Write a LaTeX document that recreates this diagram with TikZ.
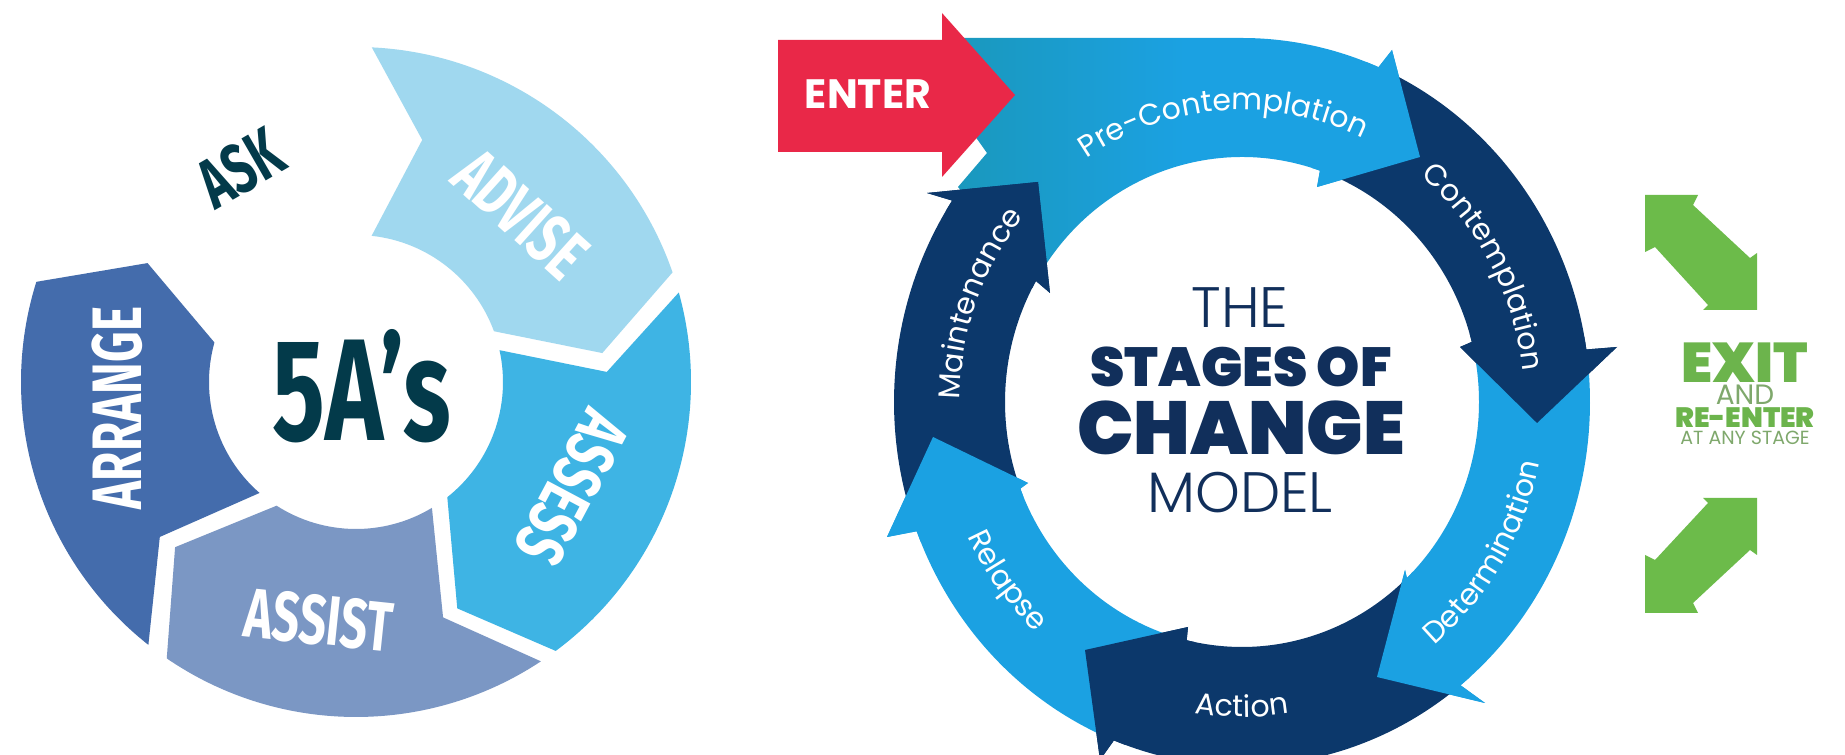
\documentclass[tikz,border=0pt]{standalone}
\usepackage{fontspec}
\usetikzlibrary{decorations.text}
\newfontfamily\pop{Poppins}
\IfFontExistsTF{Fira Sans Black}
  {\newfontfamily\condheavy[FakeStretch=0.68]{Fira Sans Black}}
  {\newfontfamily\condheavy[FakeStretch=0.7]{Fira Sans}}
\IfFontExistsTF{Poppins Light}
  {\newfontfamily\poplight{Poppins Light}}
  {\newfontfamily\poplight{Poppins}}
\IfFontExistsTF{Poppins ExtraBold}
  {\newfontfamily\popheavy{Poppins ExtraBold}}
  {\newfontfamily\popheavy{Poppins}}
\definecolor{advise}{HTML}{A0D8EF}
\definecolor{assess}{HTML}{3EB4E4}
\definecolor{assist}{HTML}{7B97C4}
\definecolor{arrange}{HTML}{446CAC}
\definecolor{darkteal}{HTML}{033A4A}
\definecolor{lblue}{HTML}{1BA1E2}
\definecolor{navy}{HTML}{0C386B}
\definecolor{tealc}{HTML}{1A98BC}
\definecolor{enterred}{HTML}{E92848}
\definecolor{exitgreen}{HTML}{6CBB4A}
\definecolor{textgreen}{HTML}{6CB44C}
\definecolor{mutedgreen}{HTML}{7FA86C}
\definecolor{centernavy}{HTML}{112F5B}
\newcommand\stagefont{\pop\fontsize{30}{30}\selectfont}
\begin{document}
\begin{tikzpicture}[x=1pt,y=1pt,
  seglabel/.style={text=white, font={\condheavy\bfseries\fontsize{70}{70}\selectfont}, inner sep=0pt},
  asklabel/.style={text=darkteal, font={\condheavy\bfseries\fontsize{70}{70}\selectfont}, inner sep=0pt},
  bigA/.style={text=darkteal, font={\condheavy\bfseries\fontsize{145}{145}\selectfont}, inner sep=0pt},
  ctrlight/.style={text=centernavy, font={\poplight\fontsize{57}{57}\selectfont}, anchor=base, inner sep=0pt},
  ctrbold/.style={text=centernavy, font={\popheavy\bfseries\fontsize{55}{55}\selectfont}, anchor=base, inner sep=0pt},
  ctrbig/.style={text=centernavy, font={\popheavy\bfseries\fontsize{75}{75}\selectfont}, anchor=base, inner sep=0pt},
  stagetext/.style={decorate, decoration={text along path, text align=center, text color=white, text={|\stagefont|#1}}},
  greenbold/.style={anchor=base, text=textgreen, inner sep=0pt, font={\popheavy\bfseries\fontsize{#1}{#1}\selectfont}},
  greenlight/.style={anchor=base, text=mutedgreen, inner sep=0pt, font={\pop\fontsize{#1}{#1}\selectfont}}
]
\fill[white] (0,0) rectangle (1845,755);
\useasboundingbox (0,0) rectangle (1845,755);

% ---------------- 5A's ring ----------------
\coordinate (LC) at (356,373);
\fill[advise] ([shift={(LC)}]87.3:335) arc[start angle=87.3, end angle=19.1, radius=335]
  -- ([shift={(LC)}]6.7:248) -- ([shift={(LC)}]20.2:147)
  arc[start angle=20.2, end angle=83.9, radius=147] -- ([shift={(LC)}]74.7:251) -- cycle;
\fill[assess] ([shift={(LC)}]15.5:335) arc[start angle=15.5, end angle=-53.4, radius=335]
  -- ([shift={(LC)}]-65.9:248) -- ([shift={(LC)}]-51.6:147)
  arc[start angle=-51.6, end angle=12.5, radius=147] -- ([shift={(LC)}]2.3:251) -- cycle;
\fill[assist] ([shift={(LC)}]-56.5:335) arc[start angle=-56.5, end angle=-124.4, radius=335]
  -- ([shift={(LC)}]-137.6:245) -- ([shift={(LC)}]-122.7:147)
  arc[start angle=-122.7, end angle=-58.9, radius=147] -- ([shift={(LC)}]-69.7:251) -- cycle;
\fill[arrange] ([shift={(LC)}]-128.3:335) arc[start angle=-128.3, end angle=-197.4, radius=335]
  -- ([shift={(LC)}]-209.7:240) -- ([shift={(LC)}]-195.6:147)
  arc[start angle=-195.6, end angle=-131, radius=147] -- ([shift={(LC)}]-141.7:250) -- cycle;

\node[rotate=30, asklabel] (ask) at (240,587) {ASK};
\node[rotate=-42, seglabel] (advisetext) at (521,541) {ADVISE};
\node[rotate=-118, seglabel] (assesstext) at (572,267) {ASSESS};
\node[rotate=-6, seglabel] (assisttext) at (319,135) {ASSIST};
\node[rotate=90, seglabel] (arrangetext) at (117,347) {ARRANGE};
\node[bigA] (fivea) at (362,369) {5A’s};

% ---------------- Stages of change ring ----------------
\coordinate (RC) at (1242,353);
% Pre-Contemplation (with extension under ENTER)
\path[left color=tealc, right color=lblue, middle color=lblue]
  (950,717) -- (1242,717) arc[start angle=90, end angle=66.9, x radius=348, y radius=364]
  -- (1392,705) -- (1420,598) -- (1317,568)
  -- ([shift={(RC)}]70.8:237 and 245) arc[start angle=70.8, end angle=150.4, x radius=237, y radius=245]
  -- (958,568) -- (987,602) -- (960,640) -- cycle;
% Contemplation
\fill[navy] ([shift={(RC)}]66.9:348 and 364) arc[start angle=66.9, end angle=8.3, x radius=348, y radius=364]
  -- (1617,408) -- (1537,332) -- (1460,408)
  -- ([shift={(RC)}]14.2:237 and 245) arc[start angle=14.2, end angle=70.8, x radius=237, y radius=245] -- cycle;
% Determination
\fill[lblue] ([shift={(RC)}]8.3:348 and 364) arc[start angle=8.3, end angle=-51.1, x radius=348, y radius=364]
  -- (1485,52) -- (1377,78) -- (1405,185)
  -- ([shift={(RC)}]-45.9:237 and 245) arc[start angle=-45.9, end angle=14.2, x radius=237, y radius=245] -- cycle;
% Action
\fill[navy] ([shift={(RC)}]-51.1:348 and 364) arc[start angle=-51.1, end angle=-111.6, x radius=348, y radius=364]
  -- (1100,-5) -- (1085,105) -- (1188,128)
  -- ([shift={(RC)}]-103.5:237 and 245) arc[start angle=-103.5, end angle=-45.9, x radius=237, y radius=245] -- cycle;
% Relapse
\fill[lblue] ([shift={(RC)}]-111.6:348 and 364) arc[start angle=-111.6, end angle=-159.2, x radius=348, y radius=364]
  -- (887,218) -- (933,318) -- (1028,272)
  -- ([shift={(RC)}]-159.3:237 and 245) arc[start angle=-159.3, end angle=-103.5, x radius=237, y radius=245] -- cycle;
% Maintenance
\fill[navy] ([shift={(RC)}]-159.2:348 and 364) arc[start angle=-159.2, end angle=-213.6, x radius=348, y radius=364]
  -- (927,562) -- (1038,573) -- (1050,462)
  -- ([shift={(RC)}]-209.6:237 and 245) arc[start angle=-209.6, end angle=-159.3, x radius=237, y radius=245] -- cycle;

% arrow heads on top
\fill[lblue] ([shift={(RC)}]68.9:348 and 364) arc[start angle=68.9, end angle=66.9, x radius=348, y radius=364]
  -- (1392,705) -- (1420,598) -- (1317,568)
  -- ([shift={(RC)}]70.8:237 and 245) arc[start angle=70.8, end angle=72.8, x radius=237, y radius=245] -- cycle;
\fill[navy] ([shift={(RC)}]10.3:348 and 364) arc[start angle=10.3, end angle=8.3, x radius=348, y radius=364]
  -- (1617,408) -- (1537,332) -- (1460,408)
  -- ([shift={(RC)}]14.2:237 and 245) arc[start angle=14.2, end angle=16.2, x radius=237, y radius=245] -- cycle;
\fill[lblue] ([shift={(RC)}]-49.1:348 and 364) arc[start angle=-49.1, end angle=-51.1, x radius=348, y radius=364]
  -- (1485,52) -- (1377,78) -- (1405,185)
  -- ([shift={(RC)}]-45.9:237 and 245) arc[start angle=-45.9, end angle=-43.9, x radius=237, y radius=245] -- cycle;
\fill[navy] ([shift={(RC)}]-109.6:348 and 364) arc[start angle=-109.6, end angle=-111.6, x radius=348, y radius=364]
  -- (1100,-5) -- (1085,105) -- (1188,128)
  -- ([shift={(RC)}]-103.5:237 and 245) arc[start angle=-103.5, end angle=-101.5, x radius=237, y radius=245] -- cycle;
\fill[lblue] ([shift={(RC)}]-157.2:348 and 364) arc[start angle=-157.2, end angle=-159.2, x radius=348, y radius=364]
  -- (887,218) -- (933,318) -- (1028,272)
  -- ([shift={(RC)}]-159.3:237 and 245) arc[start angle=-159.3, end angle=-157.3, x radius=237, y radius=245] -- cycle;
\fill[navy] ([shift={(RC)}]148.4:348 and 364) arc[start angle=148.4, end angle=146.4, x radius=348, y radius=364]
  -- (927,562) -- (1038,573) -- (1050,462)
  -- ([shift={(RC)}]150.4:237 and 245) arc[start angle=150.4, end angle=152.4, x radius=237, y radius=245] -- cycle;

% ENTER arrow
\fill[enterred] (778,603) -- (942,603) -- (942,578) -- (1015,660) -- (942,742) -- (942,715) -- (778,715) -- cycle;
\node[anchor=base, text=white, inner sep=0pt, font={\pop\bfseries\fontsize{41}{41}\selectfont}] (enter) at (868,646) {ENTER};

% stage labels
\path[stagetext=Pre-Contemplation] ([shift={(RC)}]140:282 and 292) arc[start angle=140, end angle=48, x radius=282, y radius=292];
\path[stagetext=Contemplation] ([shift={(RC)}]60:282 and 292) arc[start angle=60, end angle=-3, x radius=282, y radius=292];
\path[stagetext=Determination] ([shift={(RC)}]-60:303 and 315) arc[start angle=-60, end angle=-2, x radius=303, y radius=315];
\path[stagetext=Action] ([shift={(RC)}]-115:303 and 315) arc[start angle=-115, end angle=-65, x radius=303, y radius=315];
\path[stagetext=Relapse] ([shift={(RC)}]-168:303 and 315) arc[start angle=-168, end angle=-119.4, x radius=303, y radius=315];
\path[stagetext=Maintenance] ([shift={(RC)}]190:282 and 292) arc[start angle=190, end angle=130, x radius=282, y radius=292];

% centre title
\node[ctrlight] (the) at (1240,427) {THE};
\node[ctrbold] (stages) at (1241,368) {STAGES OF};
\node[ctrbig] (change) at (1241,300) {CHANGE};
\node[ctrlight] (model) at (1240,242) {MODEL};

% ---------------- exit part ----------------
\fill[exitgreen] (1645,560) -- (1698,560) -- (1693,550) -- (1750,497) -- (1757,502) -- (1757,445)
  -- (1703,445) -- (1708,450) -- (1655,508) -- (1645,503) -- cycle;
\fill[exitgreen] (1645,142) -- (1698,142) -- (1693,152) -- (1750,205) -- (1757,200) -- (1757,257)
  -- (1703,257) -- (1708,252) -- (1655,195) -- (1645,200) -- cycle;
\node[greenbold=56] (exit) at (1745,372) {EXIT};
\node[greenlight=28] (and) at (1745,350) {AND};
\node[greenbold=28] (reenter) at (1745,327) {RE-ENTER};
\node[greenlight=19] (anystage) at (1745,310) {AT ANY STAGE};
\end{tikzpicture}
\end{document}
